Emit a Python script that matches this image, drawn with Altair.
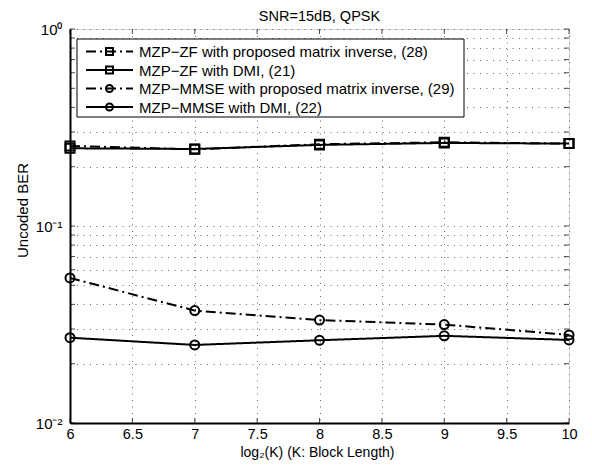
import altair as alt
import pandas as pd

# ---------------- data ----------------
x_vals = [6, 7, 8, 9, 10]
zf_proposed = [0.255, 0.245, 0.260, 0.266, 0.262]
zf_dmi = [0.248, 0.246, 0.258, 0.264, 0.262]
mmse_proposed = [0.0545, 0.0372, 0.0333, 0.0316, 0.0280]
mmse_dmi = [0.0271, 0.0249, 0.0263, 0.0277, 0.0264]

series_names = [
    "MZP\u2212ZF with proposed matrix inverse, (28)",
    "MZP\u2212ZF with DMI, (21)",
    "MZP\u2212MMSE with proposed matrix inverse, (29)",
    "MZP\u2212MMSE with DMI, (22)",
]
series_values = [zf_proposed, zf_dmi, mmse_proposed, mmse_dmi]
series_shapes = ["square", "square", "circle", "circle"]
series_dash = [[10, 4, 2, 4], [1, 0], [10, 4, 2, 4], [1, 0]]

x_ticks = [6, 6.5, 7, 7.5, 8, 8.5, 9, 9.5, 10]
y_ticks = [0.01, 0.02, 0.03, 0.04, 0.05, 0.06, 0.07, 0.08, 0.09,
           0.1, 0.2, 0.3, 0.4, 0.5, 0.6, 0.7, 0.8, 0.9, 1]

title_text = "SNR=15dB, QPSK"
x_title = "log\u2082(K) (K: Block Length)"
y_title = "Uncoded BER"

FONT = "Liberation Sans"
W, H = 499, 394

rows = []
for name, vals in zip(series_names, series_values):
    for xv, yv in zip(x_vals, vals):
        rows.append({"x": xv, "ber": yv, "series": name})
df = pd.DataFrame(rows)

xs = alt.Scale(domain=[6, 10], nice=False, zero=False)
ys = alt.Scale(type="log", domain=[0.01, 1], nice=False)

x_enc = alt.X("x:Q", scale=xs, axis=alt.Axis(
    values=x_ticks, format="~g", title=None, grid=True, ticks=False, tickSize=0,
    labelPadding=4, labelFontSize=14.5,
    labelFont=FONT, labelColor="black",
    domainColor="black", domainWidth=2,
    gridDash=[1, 5.5], gridColor="#666", gridWidth=1, labelOverlap=False,
    labelFlush=False))
y_enc = alt.Y("ber:Q", scale=ys, axis=alt.Axis(
    values=y_ticks, title=y_title, grid=True, ticks=False, tickSize=0,
    labelExpr="datum.value == 1 ? '10\u2070' : datum.value == 0.1 ? '10\u207b\u00b9' : datum.value == 0.01 ? '10\u207b\u00b2' : ''",
    labelPadding=8, labelFontSize=15, titleFontSize=15,
    labelFont=FONT, titleFont=FONT, labelColor="black", titleColor="black",
    titleFontWeight="normal", domainColor="black", domainWidth=2,
    titleAngle=270, titleAlign="center", titleBaseline="alphabetic",
    titleX=-43, titleY=181,
    gridDash=[1, 5.5], gridColor="#666", gridWidth=1, labelOverlap=False,
    labelFlush=False))

base = alt.Chart(df)
lines = base.mark_line(color="black", strokeWidth=2, clip=True).encode(
    x=x_enc, y=y_enc,
    strokeDash=alt.StrokeDash("series:N", scale=alt.Scale(domain=series_names, range=series_dash), legend=None),
)
points = base.mark_point(color="black", filled=False, size=81, strokeWidth=2, opacity=1).encode(
    x="x:Q", y="ber:Q",
    shape=alt.Shape("series:N", scale=alt.Scale(domain=series_names, range=series_shapes), legend=None),
)

# inward ticks on the frame
xt = pd.DataFrame({"x": x_ticks})
yt = pd.DataFrame({"ber": y_ticks})
tick_bottom = alt.Chart(xt).mark_tick(color="black", thickness=1, size=5).encode(x="x:Q", y=alt.value(H - 2.5))
tick_top = alt.Chart(xt).mark_tick(color="black", thickness=1, size=5).encode(x="x:Q", y=alt.value(2.5))
tick_left = alt.Chart(yt).mark_tick(color="black", thickness=1, size=5).encode(y="ber:Q", x=alt.value(2.5))
tick_right = alt.Chart(yt).mark_tick(color="black", thickness=1, size=5).encode(y="ber:Q", x=alt.value(W - 2.5))

one = pd.DataFrame({"a": [0]})

# chart title and x-axis title as text marks
title_mark = alt.Chart(one).mark_text(align="center", baseline="alphabetic", font=FONT, fontSize=14.5, color="black").encode(
    x=alt.value(W / 2), y=alt.value(-8), text=alt.value(title_text))
xtitle_mark = alt.Chart(one).mark_text(align="center", baseline="alphabetic", font=FONT, fontSize=14, color="black").encode(
    x=alt.value(W / 2 - 2), y=alt.value(H + 34), text=alt.value(x_title))

# legend box drawn inside the plot
legend_layers = [
    alt.Chart(one).mark_rect(fill="white", stroke="black", strokeWidth=1).encode(
        x=alt.value(7), x2=alt.value(394), y=alt.value(10), y2=alt.value(88))
]
row_y = [22.5, 41, 59.5, 78]
for name, shp, dash, ry in zip(series_names, series_shapes, series_dash, row_y):
    legend_layers.append(alt.Chart(one).mark_rule(color="black", strokeWidth=2, strokeDash=dash).encode(
        x=alt.value(16), x2=alt.value(63), y=alt.value(ry)))
    legend_layers.append(alt.Chart(one).mark_point(color="black", filled=False, shape=shp, size=49, strokeWidth=2, opacity=1).encode(
        x=alt.value(39.5), y=alt.value(ry)))
    legend_layers.append(alt.Chart(one).mark_text(align="left", baseline="middle", font=FONT, fontSize=15, color="black").encode(
        x=alt.value(69), y=alt.value(ry + 0.5), text=alt.value(name)))

chart = alt.layer(lines, points, tick_bottom, tick_top, tick_left, tick_right, title_mark, xtitle_mark, *legend_layers).properties(
    width=W, height=H,
    autosize=alt.AutoSizeParams(type="none"),
    padding={"left": 62, "top": 21, "right": 15, "bottom": 37},
).configure_view(stroke="black", strokeWidth=1.5).configure(background="white")

chart.save("out.html", embed_options={"renderer": "svg", "actions": False})
